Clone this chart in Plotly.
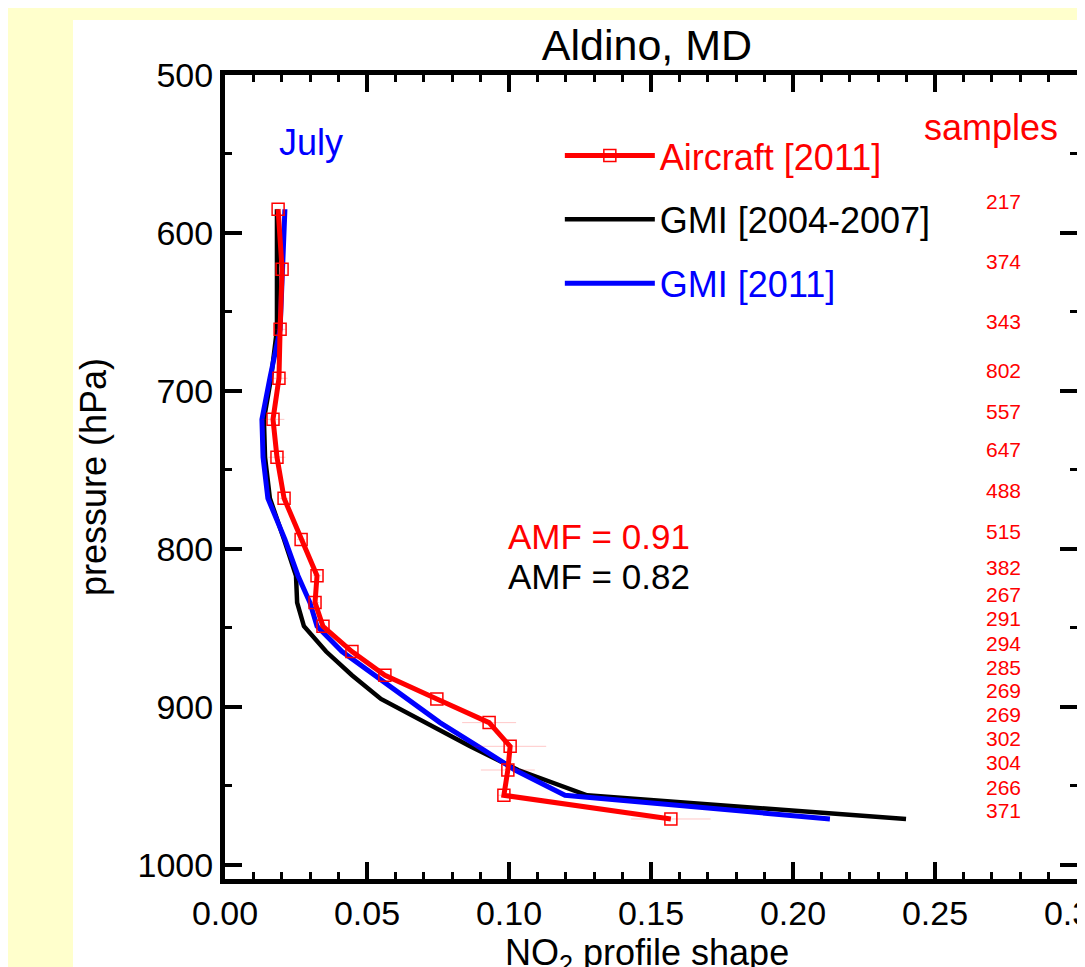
import plotly.graph_objects as go

# ---------------- data ----------------
pressure = [585, 623, 661, 692, 718, 742, 768, 794, 817, 834, 849, 865, 880, 895, 910, 925, 940, 956, 971]
aircraft_2011 = [0.0187, 0.0201, 0.0194, 0.0190, 0.0169, 0.0183, 0.0208, 0.0268, 0.0324, 0.0317,
                 0.0345, 0.0447, 0.0563, 0.0746, 0.0930, 0.1004, 0.0996, 0.0982, 0.1570]
aircraft_err = [0.001, 0.001, 0.002, 0.003, 0.004, 0.003, 0.0015, 0.0015, 0.0015, 0.0015,
                0.0015, 0.002, 0.002, 0.002, 0.0095, 0.0127, 0.0095, 0.002, 0.014]
gmi_2004_2007 = [0.0183, 0.0183, 0.0183, 0.0162, 0.0137, 0.0141, 0.0158, 0.0208, 0.0250, 0.0254,
                 0.0278, 0.0356, 0.0447, 0.0549, 0.0704, 0.0863, 0.1032, 0.1275, 0.2398]
gmi_2011 = [0.0211, 0.0204, 0.0194, 0.0158, 0.0130, 0.0134, 0.0151, 0.0211, 0.0257, 0.0299,
            0.0324, 0.0412, 0.0528, 0.0637, 0.0757, 0.0891, 0.1021, 0.1197, 0.2130]
samples = [217, 374, 343, 802, 557, 647, 488, 515, 382, 267, 291, 294, 285, 269, 269, 302, 304, 266, 371]

amf_aircraft = "AMF = 0.91"
amf_gmi = "AMF = 0.82"

FONT = "Liberation Sans, Arial, Helvetica, sans-serif"
RED = "#FF0000"
BLUE = "#0000FF"
BLACK = "#000000"

fig = go.Figure()

fig.add_trace(go.Scatter(
    x=gmi_2004_2007, y=pressure, mode="lines",
    line=dict(color=BLACK, width=4.5),
    name="<span style='color:#000000'>GMI [2004-2007]</span>",
    legendgroup="b", legendrank=2,
))
fig.add_trace(go.Scatter(
    x=gmi_2011, y=pressure, mode="lines",
    line=dict(color=BLUE, width=5),
    name="<span style='color:#0000FF'>GMI [2011]</span>",
    legendgroup="c", legendrank=3,
))
fig.add_trace(go.Scatter(
    x=aircraft_2011, y=pressure, mode="lines+markers",
    line=dict(color=RED, width=5),
    marker=dict(symbol="square-open", size=12, color=RED, line=dict(width=1.5, color=RED)),
    error_x=dict(type="data", array=aircraft_err, color="rgba(255,0,0,0.22)", thickness=1, width=0),
    name="<span style='color:#FF0000'>Aircraft [2011]</span>",
    legendgroup="a", legendrank=1,
))

annotations = []
for p, n in zip(pressure, samples):
    annotations.append(dict(
        x=0.274, y=p, xref="x", yref="y", text=str(n), showarrow=False,
        font=dict(family=FONT, size=21, color=RED), xanchor="center", yanchor="middle", yshift=8,
    ))
annotations += [
    dict(x=0.294, y=533, xref="x", yref="y", text="samples", showarrow=False,
         font=dict(family=FONT, size=36, color=RED), xanchor="right", yanchor="middle"),
    dict(x=0.0184, y=543, xref="x", yref="y", text="July", showarrow=False,
         font=dict(family=FONT, size=36, color=BLUE), xanchor="left", yanchor="middle"),
    dict(x=0.0990, y=792, xref="x", yref="y", text=amf_aircraft, showarrow=False,
         font=dict(family=FONT, size=35, color=RED), xanchor="left", yanchor="middle"),
    dict(x=0.0990, y=817.5, xref="x", yref="y", text=amf_gmi, showarrow=False,
         font=dict(family=FONT, size=35, color=BLACK), xanchor="left", yanchor="middle"),
    # x-axis title (placed as a paper annotation to sit as low as in the original)
    dict(x=0.4953, y=-0.064, xref="paper", yref="paper", text="NO<sub>2</sub> profile shape",
         showarrow=False, font=dict(family=FONT, size=36, color=BLACK),
         xanchor="center", yanchor="top"),
]

axis_common = dict(
    showline=True, linewidth=5, linecolor=BLACK, mirror="allticks",
    ticks="inside", ticklen=17, tickwidth=4, tickcolor=BLACK,
    showgrid=False, zeroline=False, automargin=False,
    tickfont=dict(family=FONT, size=34, color=BLACK),
)

# The page body adds an 8 px offset; the figure is sized to fill the rest of the window.
fig.update_layout(
    template="none",
    width=1077, height=959,
    paper_bgcolor="#FFFFCC", plot_bgcolor="white",
    margin=dict(l=217, r=8, t=67, b=88, autoexpand=False),
    font=dict(family=FONT, size=34, color=BLACK),
    title=dict(text="Aldino, MD", x=639 / 1077, xref="container", xanchor="center",
               y=1 - 37 / 959, yref="container", yanchor="middle",
               font=dict(family=FONT, size=43, color=BLACK)),
    xaxis=dict(range=[0, 0.30], dtick=0.05, tick0=0, tickformat=".2f",
               ticklabeloverflow="allow",
               minor=dict(dtick=0.01, ticks="inside", ticklen=7, tickwidth=3, tickcolor=BLACK),
               **axis_common),
    yaxis=dict(range=[1009, 500], dtick=100, tick0=500,
               minor=dict(dtick=50, ticks="inside", ticklen=7, tickwidth=3, tickcolor=BLACK),
               title=dict(text="pressure (hPa)", standoff=21,
                          font=dict(family=FONT, size=36, color=BLACK)),
               **axis_common),
    legend=dict(x=0.393, y=0.937, xanchor="left", yanchor="top",
                bgcolor="rgba(0,0,0,0)", borderwidth=0,
                font=dict(family=FONT, size=36),
                traceorder="grouped", tracegroupgap=14, itemwidth=90),
    showlegend=True,
    annotations=annotations,
    shapes=[dict(type="rect", xref="paper", yref="paper",
                 x0=-0.1784, x1=1.05, y0=-0.15, y1=1.0684,
                 fillcolor="white", line=dict(width=0), layer="below")],
)

fig.write_html("out.html")
